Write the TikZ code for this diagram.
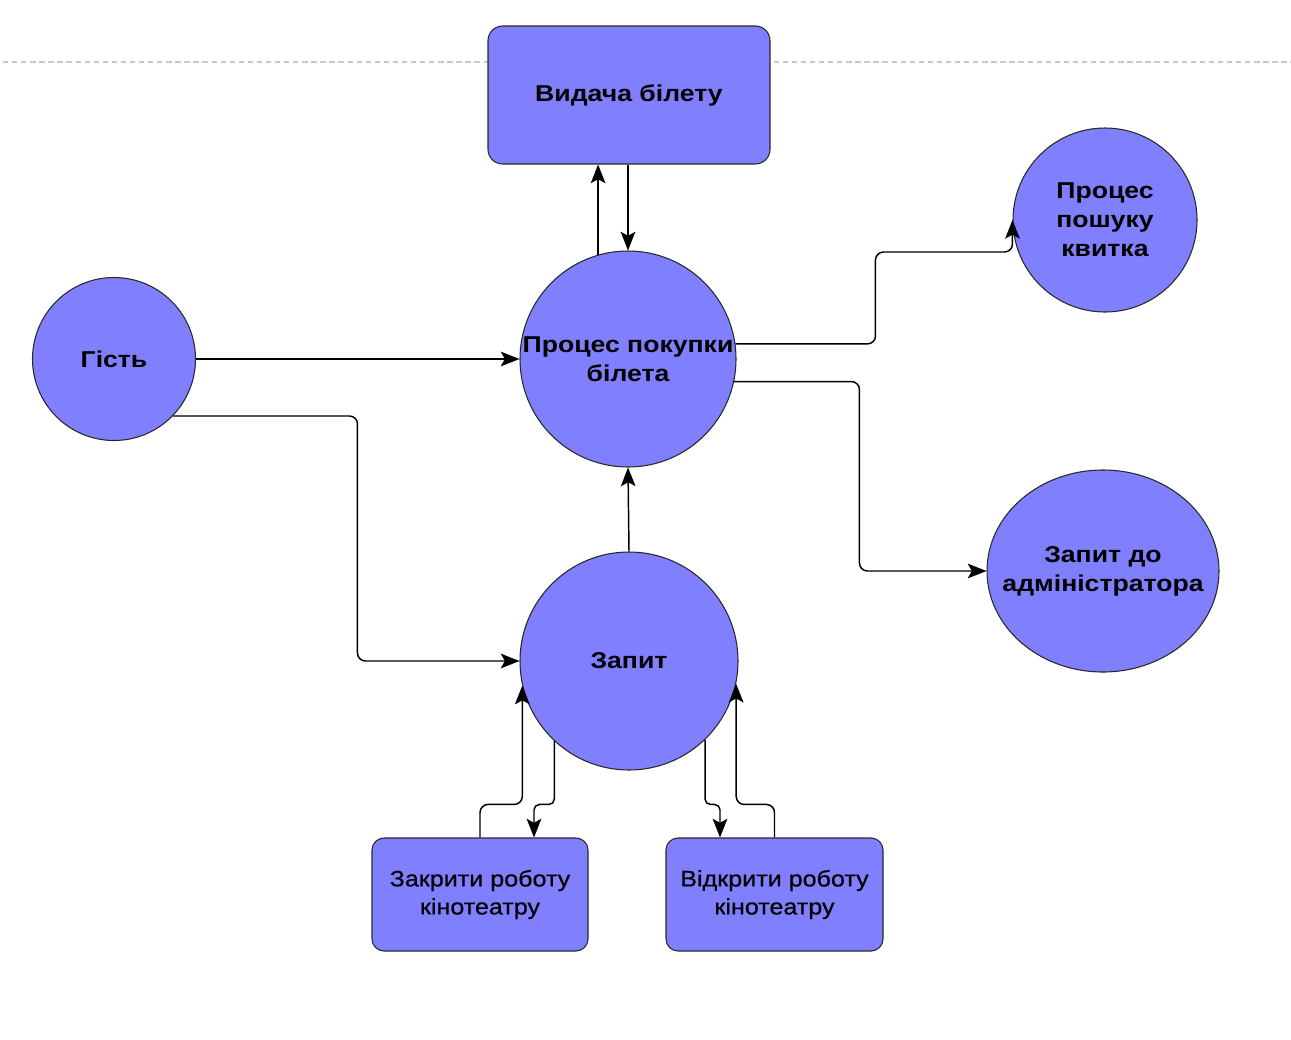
\documentclass[tikz,border=0pt]{standalone}
\usepackage{fontspec}
\setmainfont{Liberation Sans}[FakeStretch=1.16]
\newfontfamily\lowfont{Liberation Sans}[FakeStretch=1.12,FakeBold=0.6]
\usetikzlibrary{arrows.meta,calc,shapes.geometric}
\definecolor{nodefill}{RGB}{128,128,255}
\definecolor{nodeedge}{RGB}{40,40,40}
\definecolor{dashgray}{RGB}{200,200,200}
\tikzset{
  base/.style={fill=nodefill, draw=nodeedge, line width=0.8pt, align=center, inner sep=0pt},
  bubble/.style={base, circle, font=\fontsize{17.2pt}{21.75pt}\selectfont\bfseries},
  oval/.style={base, ellipse, inner xsep=-32pt, font=\fontsize{17.2pt}{21.75pt}\selectfont\bfseries},
  topbox/.style={base, rectangle, rounded corners=11pt, font=\fontsize{17.2pt}{21.75pt}\selectfont\bfseries},
  lowbox/.style={base, rectangle, rounded corners=9pt, font=\lowfont\fontsize{16.8pt}{21pt}\selectfont},
  arr/.style={draw=black, line width=1.1pt, rounded corners=6pt,
    -{Stealth[length=14pt,width=11pt,inset=3pt]}},
}
\begin{document}
\begin{tikzpicture}[x=0.75pt,y=-0.75pt]
\useasboundingbox[fill=white] (0,0) rectangle (1291,1039);
\draw[dashgray, line width=0.9pt, dash pattern=on 4pt off 2.8pt] (3,62) -- (1291,62);

\node[topbox, minimum width=211.5pt, minimum height=103.5pt] (vid) at (629,95) {Видача білету};
\node[bubble, minimum size=162pt] (buy) at (628,359) {Процес покупки\\білета};
\node[bubble, minimum size=122.25pt] (guest) at (114,359) {Гість};
\node[bubble, minimum size=138pt] (search) at (1105,220) {Процес\\пошуку\\квитка};
\node[oval, minimum width=174pt, minimum height=151.5pt] (admin) at (1103,571) {Запит до\\адміністратора};
\node[bubble, minimum size=163.5pt] (req) at (629,661) {Запит};
\node[lowbox, minimum width=162pt, minimum height=84.75pt] (close) at (480,894.5) {Закрити роботу\\кінотеатру};
\node[lowbox, minimum width=162.75pt, minimum height=84.75pt] (open) at (774.5,894.5) {Відкрити роботу\\кінотеатру};

% ticket box <-> purchase
\draw[arr] (buy.106) -- (buy.106 |- vid.south);
\draw[arr] (vid.south -| buy.north) -- (buy.north);

% guest
\draw[arr] (guest.east) -- (buy.west);
\draw[arr] (guest.-44) -| ($(req.west)+(-162,0)$) -- (req.west);

% request -> purchase
\draw[arr] (req.north) -- (buy.south);

% purchase -> search / admin
\draw[arr] (buy.8) -| ($(search.west)+(-137,32)$) -| (search.west);
\draw[arr] (buy.-12) -| ($(admin.west)+(-127,0)$) -- (admin.west);

% request <-> close
\draw[arr] (close.north) -- ($(close.north)+(0,-33)$) -| (req.193);
\draw[arr, rounded corners=4pt] (req.227) |- ($(close.north)+(54,-33)$) -- ($(close.north)+(54,0)$);

% request <-> open
\draw[arr, rounded corners=4pt] (req.-46) |- ($(open.north)+(-54.5,-33)$) -- ($(open.north)+(-54.5,0)$);
\draw[arr] (open.north) -- ($(open.north)+(0,-33)$) -| (req.-12);
\end{tikzpicture}
\end{document}
